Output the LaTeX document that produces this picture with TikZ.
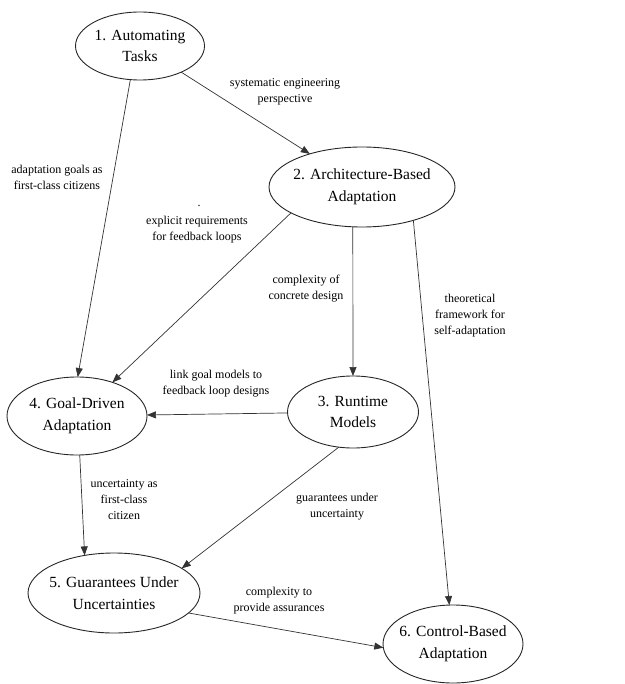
\documentclass[tikz,border=0pt]{standalone}
\usepackage{fontspec}
\setmainfont{Liberation Serif}
\usetikzlibrary{shapes.geometric,arrows.meta}

\begin{document}
\begin{tikzpicture}[x=1pt, y=-1pt,
    stage/.style={ellipse, draw=black!85, line width=.9pt, inner sep=-30pt, outer sep=0pt,
      align=center, font=\fontsize{15.5}{21.5}\selectfont},
    note/.style={align=center, inner sep=0pt, font=\fontsize{12}{16}\selectfont},
    link/.style={draw=black!80, line width=.7pt, -{Triangle[length=9pt,width=7pt]}}]
      \useasboundingbox (0, 0) rectangle (624, 684);

      %%stages
      \node[stage, minimum width=129, minimum height=68] (auto) at (140, 46) {1. Automating\\Tasks};
      \node[stage, minimum width=186, minimum height=80] (arch) at (362, 187) {2. Architecture-Based\\Adaptation};
      \node[stage, minimum width=131, minimum height=72] (rt) at (353, 412) {3. Runtime\\Models};
      \node[stage, minimum width=140, minimum height=78] (goal) at (77, 416) {4. Goal-Driven\\Adaptation};
      \node[stage, minimum width=172, minimum height=80] (guar) at (114, 593) {5. Guarantees Under\\Uncertainties};
      \node[stage, minimum width=140, minimum height=78] (ctrl) at (453, 644) {6. Control-Based\\Adaptation};

      %%1 -> 2, 1 -> 4
      \draw[link] (auto) to (arch);
      \draw[link] (auto.254) to (goal.89);
        \node[note] (n12) at (285, 92) {systematic engineering\\perspective};
        \node[note] (n14) at (57, 177) {adaptation goals as\\first-class citizens};

      %%2 -> 4, 2 -> 3, 2 -> 6
      \draw[link] (arch.200) to (goal);
      \draw[link] (arch.257) to (rt);
      \draw[link] (arch.327) to (ctrl);
        \node[note] (dot) at (199, 206) {.};
        \node[note] (n24) at (197, 230) {explicit requirements\\for feedback loops};
        \node[note] (n23) at (306, 289) {complexity of\\concrete design};
        \node[note] (n26) at (470, 316) {theoretical\\framework for\\self-adaptation};

      %%3 -> 4, 3 -> 5
      \draw[link] (rt) to (goal);
      \draw[link] (rt.248) to (guar.20);
        \node[note] (n34) at (216, 384) {link goal models to\\feedback loop designs};
        \node[note] (n35) at (337, 507) {guarantees under\\uncertainty};

      %%4 -> 5
      \draw[link] (goal.274) to (guar.128);
        \node[note] (n45) at (124, 500) {uncertainty as\\first-class\\citizen};

      %%5 -> 6
      \draw[link] (guar.345) to (ctrl.183);
        \node[note] (n56) at (279, 601) {complexity to\\provide assurances};
\end{tikzpicture}
\end{document}
